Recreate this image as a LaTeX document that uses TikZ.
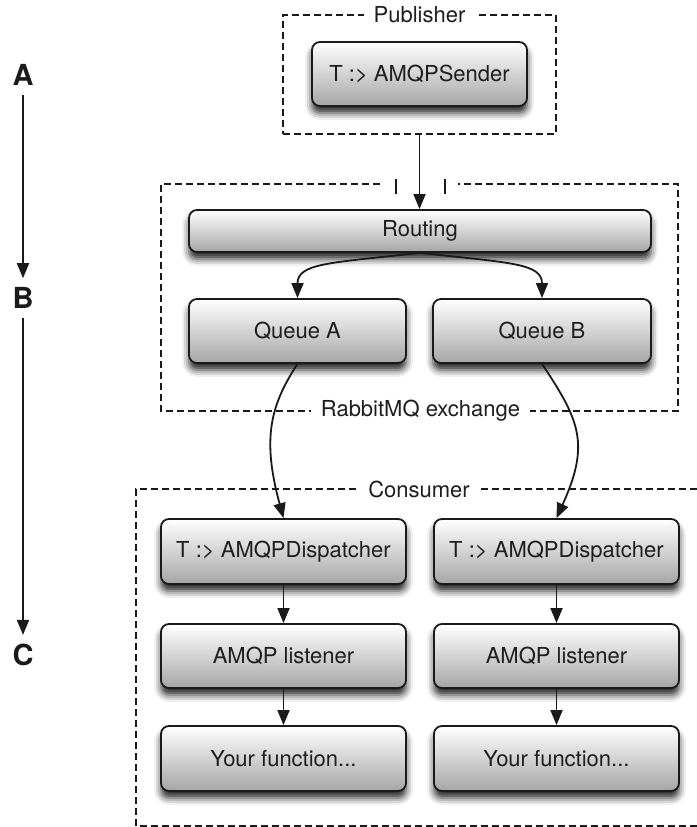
\documentclass[tikz,border=0pt]{standalone}
\usepackage{fontspec}
\setmainfont{TeX Gyre Heros}
\usetikzlibrary{arrows.meta,shadows.blur}
\definecolor{ink}{HTML}{1A1A1A}
\definecolor{txt}{HTML}{1E1E1E}
\tikzset{
  box/.style={draw=ink, line width=1.8pt, rounded corners=8pt,
    top color=white, bottom color=black!35,
    blur shadow={shadow xshift=0pt, shadow yshift=-7pt, shadow blur radius=7pt, shadow opacity=85},
    font=\fontsize{22}{26}\selectfont, text=txt, inner sep=0pt},
  dbox/.style={draw=ink, line width=1.6pt, dash pattern=on 7pt off 4pt},
  grp/.style={fill=white, font=\fontsize{22}{26}\selectfont, text=txt, inner xsep=10pt, inner ysep=2pt},
  conn/.style={draw=ink, line width=1.8pt, -{Triangle[length=15pt,width=12pt]}},
  stage/.style={font=\fontsize{29}{32}\selectfont\bfseries, text=ink, inner sep=9pt},
  tick/.style={draw=ink, line width=1.6pt}
}
\begin{document}
\begin{tikzpicture}[x=1pt,y=-1pt]
\useasboundingbox (0,0) rectangle (696,827);

% stage letters
\node[stage] (A) at (23,75) {A};
\node[stage] (B) at (23,298) {B};
\node[stage] (C) at (23,655) {C};
\draw[conn] (A) -- (B);
\draw[conn] (B) -- (C);

% Publisher group
\node[dbox, minimum width=273pt, minimum height=119pt, inner sep=0pt] (pub) at (419.5,74.5) {};
\node[grp] (publbl) at (pub.north) {Publisher};
\node[box, minimum width=215pt, minimum height=64pt] (sender) at (419.5,74) {T :> AMQPSender};

% RabbitMQ exchange group
\coordinate (exgapL) at (380,184);
\coordinate (exgapR) at (458,184);
\draw[dbox] (exgapL) -- (161,184) -- (161,411) -- (678,411) -- (678,184) -- (exgapR);
\coordinate (t1a) at (396,179); \coordinate (t1b) at (396,194);
\coordinate (t2a) at (445,179); \coordinate (t2b) at (445,194);
\draw[tick] (t1a) -- (t1b);
\draw[tick] (t2a) -- (t2b);
\node[grp] (exlbl) at (420.5,411) {RabbitMQ exchange};

\node[box, minimum width=462pt, minimum height=42pt] (routing) at (420,231) {Routing};
\node[box, minimum width=217pt, minimum height=64pt] (qa) at (297.5,331) {Queue A};
\node[box, minimum width=218pt, minimum height=64pt] (qb) at (542,331) {Queue B};

% Consumer group
\coordinate (cTR) at (697,489);
\coordinate (cBR) at (697,826);
\draw[dbox] (cTR) -- (136,489) -- (136,826) -- (cBR);
\node[grp] (conlbl) at (419,489) {Consumer};

\node[box, minimum width=245pt, minimum height=65pt] (d1) at (283.5,551.5) {T :> AMQPDispatcher};
\node[box, minimum width=245pt, minimum height=65pt] (d2) at (556.5,551.5) {T :> AMQPDispatcher};
\node[box, minimum width=245pt, minimum height=64pt] (l1) at (283.5,656) {AMQP listener};
\node[box, minimum width=245pt, minimum height=64pt] (l2) at (556.5,656) {AMQP listener};
\node[box, minimum width=245pt, minimum height=65pt] (f1) at (283.5,758.5) {Your function...};
\node[box, minimum width=245pt, minimum height=65pt] (f2) at (556.5,758.5) {Your function...};

% connectors
\draw[conn] (pub.south) -- (pub.south |- routing.north);
\draw[conn] (routing.south) .. controls +(-90,10) and +(0,-35) .. (qa.north);
\draw[conn] (routing.south) .. controls +(90,10) and +(0,-35) .. (qb.north);
\draw[conn] (qa.south) .. controls +(-27.5,42) and +(-21.5,-79) .. (d1.north);
\draw[conn] (qb.south) .. controls +(38,57) and +(33.5,-74) .. (d2.north);
\draw[conn] (d1) -- (l1);
\draw[conn] (l1) -- (f1);
\draw[conn] (d2) -- (l2);
\draw[conn] (l2) -- (f2);
\end{tikzpicture}
\end{document}
